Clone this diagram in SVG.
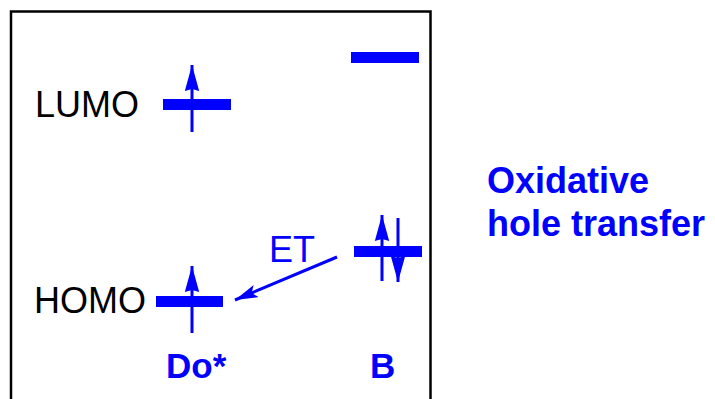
<svg xmlns="http://www.w3.org/2000/svg" width="715" height="399" viewBox="0 0 715 399">
<style>
.lbl{font-family:"Liberation Sans",Arial,sans-serif;font-size:36px;fill:#000}
.blue{font-family:"Liberation Sans",Arial,sans-serif;font-weight:bold;font-size:35px;fill:#0000ff}
.lvl{fill:#0000ff}
.arr{stroke:#0000ff;stroke-width:3;fill:none}
</style>
<defs>
<marker id="head" markerUnits="userSpaceOnUse" markerWidth="28" markerHeight="16" viewBox="0 0 28 16" refX="26" refY="8" orient="auto">
<path d="M0,0.8 L26,8 L0,15.2 L2,8 Z" fill="#0000ff"/>
</marker>
<marker id="head2" markerUnits="userSpaceOnUse" markerWidth="24" markerHeight="14" viewBox="0 0 24 14" refX="23" refY="7" orient="auto">
<path d="M0,0.5 L23,7 L0,13.5 L5,7 Z" fill="#0000ff"/>
</marker>
</defs>
<rect x="11" y="11.5" width="419.5" height="400" fill="none" stroke="#000" stroke-width="2.5"/>
<g id="lumo-label"><text class="lbl" x="35" y="117">LUMO</text></g>
<g id="homo-label"><text class="lbl" x="34" y="313">HOMO</text></g>
<g id="do-lumo">
<rect class="lvl" x="163" y="99" width="68" height="11"/>
<line class="arr" x1="192" y1="132" x2="192" y2="65" marker-end="url(#head)"/>
</g>
<g id="do-homo">
<rect class="lvl" x="156" y="296" width="67" height="11"/>
<line class="arr" x1="192" y1="333" x2="192" y2="266" marker-end="url(#head)"/>
</g>
<g id="b-lumo"><rect class="lvl" x="351" y="52" width="68" height="11"/></g>
<g id="b-homo">
<rect class="lvl" x="354" y="246" width="68" height="11"/>
<line class="arr" x1="382" y1="281" x2="382" y2="215" marker-end="url(#head)"/>
<line class="arr" x1="398" y1="218" x2="398" y2="282" marker-end="url(#head)"/>
</g>
<g id="connectors">
<line class="arr" x1="337" y1="257" x2="235" y2="300" marker-end="url(#head2)"/>
<text class="lbl" x="269" y="262" style="fill:#0000ff">ET</text>
</g>
<g id="do-label"><text class="blue" x="166" y="378">Do*</text></g>
<g id="b-label"><text class="blue" x="370" y="378">B</text></g>
<g id="title"><text class="blue" x="487" y="193" style="font-size:36px">Oxidative</text><text class="blue" x="487" y="236" style="font-size:36px">hole transfer</text></g>
</svg>
